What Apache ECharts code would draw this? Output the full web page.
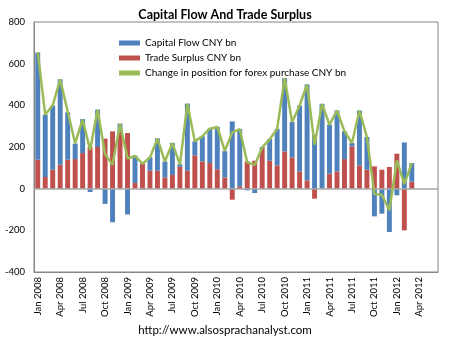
<!DOCTYPE html>
<html>
<head>
<meta charset="utf-8">
<script src="https://cdn.jsdelivr.net/npm/echarts@6/dist/echarts.min.js"></script>
<style>html,body{margin:0;padding:0;background:#fff;}#c{width:450px;height:341px;}</style>
</head>
<body>
<div id="c"></div>
<script>
// Categories: Jan 2008 .. Jun 2012 (data through Mar 2012)
const months = ['Jan','Feb','Mar','Apr','May','Jun','Jul','Aug','Sep','Oct','Nov','Dec'];
const categories = [];
for (let y = 2008; y <= 2012; y++) {
  for (let m = 0; m < 12; m++) {
    if (y === 2012 && m > 5) break;
    categories.push(months[m] + ' ' + y);
  }
}

const tradeSurplus = [139,56,91,115,139,142,171,200,200,240,275,272,
  267,27,122,86,86,54,66,105,86,160,131,123,
  93,54,-53,11,131,134,195,134,112,179,150,83,
  40,-48,1,72,83,142,203,112,91,107,91,104,
  168,-200,34];

const capitalFlow = [514,299,308,410,227,74,163,-16,179,-73,-161,40,
  -124,131,-4,65,155,76,153,12,322,67,121,165,
  203,126,323,275,-8,-21,5,105,175,351,170,316,
  460,259,406,235,292,133,16,263,157,-133,-120,-208,
  -32,222,89];

const forexChange = [655,355,400,525,370,218,332,186,379,165,115,311,
  145,157,120,150,240,130,219,116,408,227,252,288,
  296,182,270,286,126,114,198,237,287,530,320,399,
  500,211,407,307,375,275,219,375,248,-26,-29,-104,
  136,22,123];

const yTicks = {min: -400, max: 800, interval: 200};

const chart = echarts.init(document.getElementById('c'), null, {renderer: 'canvas'});
const font = 'Lato, "Open Sans", sans-serif';
chart.setOption({
  animation: false,
  backgroundColor: '#fff',
  textStyle: {fontFamily: font},
  title: [{
    text: 'Capital Flow And Trade Surplus',
    left: 'center', top: 3,
    textStyle: {fontSize: 12.5, fontWeight: 'bold', color: '#000', fontFamily: font}
  }],
  graphic: [{
    type: 'text', left: 'center', top: 324,
    style: {text: 'http://www.alsosprachanalyst.com', fontSize: 11.5, fill: '#000', fontFamily: font}
  }],
  legend: {
    orient: 'vertical', left: 114, top: 32,
    itemWidth: 21, itemHeight: 5, itemGap: 3,
    textStyle: {fontSize: 10, color: '#000', lineHeight: 12, fontFamily: font},
    data: [
      {name: 'Capital Flow CNY bn', icon: 'rect'},
      {name: 'Trade Surplus CNY bn', icon: 'rect'},
      {name: 'Change in position for forex purchase CNY bn', icon: 'rect'}
    ]
  },
  grid: {left: 34, right: 12, top: 22, bottom: 69, show: true, borderColor: '#868686', borderWidth: 1},
  xAxis: {
    type: 'category', data: categories,
    axisLine: {onZero: false, lineStyle: {color: '#868686'}},
    axisTick: {show: false},
    axisLabel: {rotate: 90, interval: 2, fontSize: 9.5, color: '#000', margin: 5, fontFamily: font}
  },
  yAxis: {
    type: 'value', min: yTicks.min, max: yTicks.max, interval: yTicks.interval,
    axisLine: {show: true, lineStyle: {color: '#868686'}},
    axisTick: {show: false},
    splitLine: {show: false},
    axisLabel: {fontSize: 9.5, color: '#000', margin: 9, fontFamily: font}
  },
  series: [
    {
      name: 'Trade Surplus CNY bn', type: 'bar', stack: 'a', data: tradeSurplus,
      barWidth: '66%', itemStyle: {color: '#C0504D'},
      markLine: {silent: true, symbol: 'none', label: {show: false},
        lineStyle: {color: '#A6A6A6', type: 'solid', width: 1.5}, data: [{yAxis: 0}]}
    },
    {
      name: 'Capital Flow CNY bn', type: 'bar', stack: 'a', data: capitalFlow,
      barWidth: '66%', itemStyle: {color: '#4F81BD'}
    },
    {
      name: 'Change in position for forex purchase CNY bn', type: 'line', data: forexChange,
      symbol: 'none', z: 5,
      lineStyle: {color: '#9BBB59', width: 2.5}, itemStyle: {color: '#9BBB59'}
    }
  ]
});
</script>
</body>
</html>
